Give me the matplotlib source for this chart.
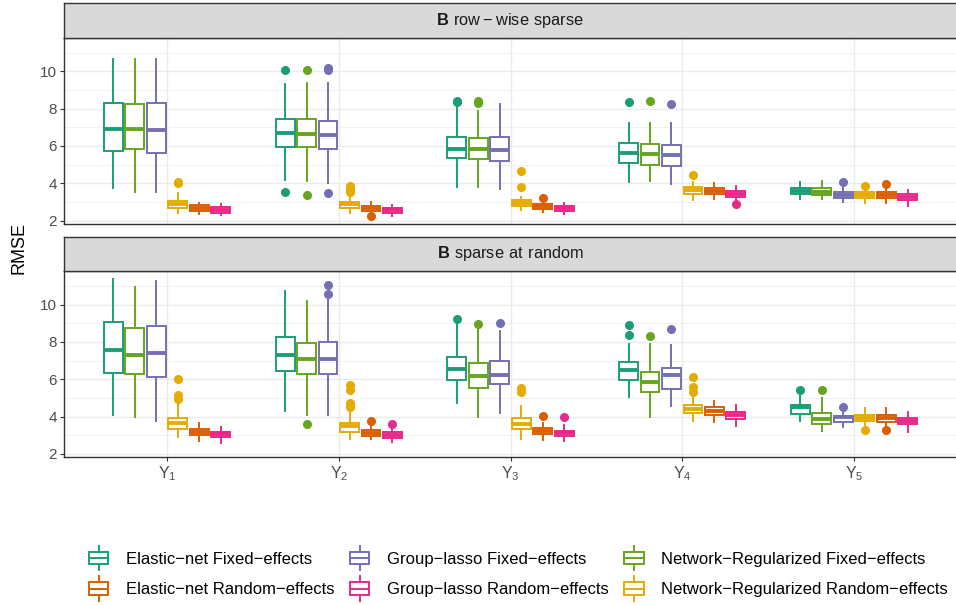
import matplotlib
matplotlib.use("Agg")
import matplotlib.pyplot as plt
from matplotlib.patches import Rectangle
from matplotlib.lines import Line2D
from matplotlib.legend_handler import HandlerBase

plt.rcParams['font.family'] = ['Liberation Sans', 'DejaVu Sans']
plt.rcParams['mathtext.fontset'] = 'custom'
plt.rcParams['mathtext.rm'] = 'Liberation Sans'
plt.rcParams['mathtext.bf'] = 'Liberation Sans:bold'

responses = [r'$\mathrm{Y}_{1}$', r'$\mathrm{Y}_{2}$', r'$\mathrm{Y}_{3}$',
             r'$\mathrm{Y}_{4}$', r'$\mathrm{Y}_{5}$']
panel_titles = [r'$\mathbf{B}\ \mathrm{row}-\mathrm{wise\ sparse}$',
                r'$\mathbf{B}\ \mathrm{sparse\ at\ random}$']

# box stats per response: [whisker low, q1, median, q3, whisker high]
# ---- B row-wise sparse
rw_en_fixed = [[3.74, 5.75, 6.91, 8.29, 10.64], [4.18, 5.96, 6.70, 7.45, 9.32],
               [3.82, 5.36, 5.86, 6.50, 8.11], [4.06, 5.11, 5.61, 6.18, 7.22],
               [3.16, 3.45, 3.61, 3.77, 4.06]]
rw_en_fixed_out = [[], [10.07, 3.56], [8.34, 8.40], [8.34], []]
rw_nr_fixed = [[3.56, 5.84, 6.91, 8.23, 10.64], [4.14, 5.95, 6.64, 7.45, 9.36],
               [3.82, 5.30, 5.82, 6.43, 7.87], [4.14, 4.97, 5.55, 6.12, 7.22],
               [3.16, 3.36, 3.54, 3.75, 4.14]]
rw_nr_fixed_out = [[], [10.07, 3.36], [8.30, 8.42], [8.41], []]
rw_gl_fixed = [[3.56, 5.64, 6.86, 8.32, 10.64], [4.00, 5.84, 6.57, 7.34, 9.36],
               [3.68, 5.21, 5.77, 6.48, 8.23], [3.97, 4.95, 5.50, 6.07, 7.22],
               [3.00, 3.22, 3.38, 3.54, 3.82]]
rw_gl_fixed_out = [[], [10.05, 10.20, 3.48], [], [8.25], [4.09]]
rw_nr_random = [[2.43, 2.67, 2.88, 3.06, 3.47], [2.43, 2.67, 2.90, 3.00, 3.29],
                [2.58, 2.81, 2.97, 3.11, 3.29], [3.11, 3.45, 3.64, 3.82, 4.07],
                [2.93, 3.22, 3.38, 3.54, 3.70]]
rw_nr_random_out = [[4.00, 4.05], [3.55, 3.65, 3.75, 3.85], [3.82, 4.66], [4.45], [3.88]]
rw_en_random = [[2.35, 2.54, 2.70, 2.84, 2.97], [2.43, 2.54, 2.68, 2.79, 2.99],
                [2.48, 2.65, 2.79, 2.90, 3.00], [3.15, 3.42, 3.61, 3.74, 4.00],
                [2.93, 3.22, 3.40, 3.54, 3.70]]
rw_en_random_out = [[], [2.27], [3.20], [], [3.95]]
rw_gl_random = [[2.31, 2.43, 2.58, 2.74, 2.88], [2.25, 2.43, 2.58, 2.70, 2.86],
                [2.36, 2.52, 2.67, 2.81, 2.93], [3.11, 3.25, 3.43, 3.58, 3.86],
                [2.81, 3.10, 3.26, 3.42, 3.65]]
rw_gl_random_out = [[], [], [], [2.90], []]

# ---- B sparse at random
sr_en_fixed = [[4.07, 6.35, 7.55, 9.08, 11.35], [4.32, 6.46, 7.32, 8.28, 10.75],
               [4.72, 5.96, 6.54, 7.18, 9.00], [5.04, 5.96, 6.50, 6.91, 7.89],
               [3.78, 4.14, 4.50, 4.63, 5.16]]
sr_en_fixed_out = [[], [], [9.23], [8.89, 8.36], [5.43]]
sr_nr_fixed = [[4.00, 6.28, 7.32, 8.75, 10.93], [4.09, 6.30, 7.09, 7.96, 10.21],
               [4.00, 5.55, 6.18, 6.86, 8.73], [3.97, 5.34, 5.86, 6.41, 7.89],
               [3.25, 3.59, 3.88, 4.21, 4.98]]
sr_nr_fixed_out = [[], [3.59], [8.94], [8.34], [5.43]]
sr_gl_fixed = [[3.78, 6.14, 7.39, 8.84, 11.28], [4.07, 6.28, 7.10, 8.01, 10.28],
               [4.18, 5.73, 6.23, 7.00, 8.59], [4.57, 5.46, 6.21, 6.62, 7.82],
               [3.46, 3.72, 3.97, 4.05, 4.27]]
sr_gl_fixed_out = [[], [11.03, 10.57], [9.00], [8.71], [4.54]]
sr_nr_random = [[2.93, 3.32, 3.64, 3.93, 4.77], [2.79, 3.20, 3.52, 3.68, 4.21],
                [2.80, 3.34, 3.62, 3.93, 4.57], [3.78, 4.21, 4.43, 4.63, 5.07],
                [3.55, 3.78, 3.93, 4.11, 4.45]]
sr_nr_random_out = [[6.00, 5.15, 4.95], [5.70, 5.40, 4.75, 4.60, 4.50],
                    [5.55, 5.30], [6.11, 5.57, 5.30], [3.29]]
sr_en_random = [[2.70, 3.00, 3.18, 3.34, 3.64], [2.79, 2.95, 3.13, 3.29, 3.56],
                [2.75, 3.07, 3.23, 3.41, 3.66], [3.73, 4.09, 4.30, 4.50, 4.86],
                [3.52, 3.73, 3.93, 4.09, 4.48]]
sr_en_random_out = [[], [3.78], [4.05], [], [3.27]]
sr_gl_random = [[2.61, 2.90, 3.06, 3.20, 3.46], [2.64, 2.86, 3.02, 3.16, 3.38],
                [2.71, 2.95, 3.11, 3.25, 3.54], [3.52, 3.88, 4.09, 4.23, 4.63],
                [3.20, 3.59, 3.75, 3.91, 4.27]]
sr_gl_random_out = [[], [3.59], [4.00], [], []]

# dodge order in the plot: teal, green, purple, yellow, orange, pink
methods = ['en_fixed', 'nr_fixed', 'gl_fixed', 'nr_random', 'en_random', 'gl_random']
colors = {'en_fixed': '#1B9E77', 'en_random': '#D95F02', 'gl_fixed': '#7570B3',
          'gl_random': '#E7298A', 'nr_fixed': '#66A61E', 'nr_random': '#E6AB02'}
labels = {'en_fixed': 'Elastic\u2212net Fixed\u2212effects',
          'en_random': 'Elastic\u2212net Random\u2212effects',
          'gl_fixed': 'Group\u2212lasso Fixed\u2212effects',
          'gl_random': 'Group\u2212lasso Random\u2212effects',
          'nr_fixed': 'Network\u2212Regularized Fixed\u2212effects',
          'nr_random': 'Network\u2212Regularized Random\u2212effects'}

panels = [
    {'en_fixed': (rw_en_fixed, rw_en_fixed_out), 'nr_fixed': (rw_nr_fixed, rw_nr_fixed_out),
     'gl_fixed': (rw_gl_fixed, rw_gl_fixed_out), 'nr_random': (rw_nr_random, rw_nr_random_out),
     'en_random': (rw_en_random, rw_en_random_out), 'gl_random': (rw_gl_random, rw_gl_random_out)},
    {'en_fixed': (sr_en_fixed, sr_en_fixed_out), 'nr_fixed': (sr_nr_fixed, sr_nr_fixed_out),
     'gl_fixed': (sr_gl_fixed, sr_gl_fixed_out), 'nr_random': (sr_nr_random, sr_nr_random_out),
     'en_random': (sr_en_random, sr_en_random_out), 'gl_random': (sr_gl_random, sr_gl_random_out)},
]

W, H = 956, 605
fig = plt.figure(figsize=(W / 100, H / 100), dpi=100)

dark = '#333333'
grid = '#EBEBEB'
step = 0.125
bw = 0.11

def px(x0, y0, x1, y1):
    # pixel box -> figure fraction rect
    return [x0 / W, 1 - y1 / H, (x1 - x0) / W, (y1 - y0) / H]

panel_px = [(64, 37.7, 957, 224), (64, 271, 957, 457.3)]
strip_px = [(64, 3, 957, 37.7), (64, 236.5, 957, 271)]

for k, data in enumerate(panels):
    ax = fig.add_axes(px(*panel_px[k]))
    for i, m in enumerate(methods):
        stats, outs = data[m]
        bxs = []
        for s, o in zip(stats, outs):
            bxs.append({'whislo': s[0], 'q1': s[1], 'med': s[2], 'q3': s[3],
                        'whishi': s[4], 'fliers': o})
        pos = [j + 1 + (i - 2.5) * step for j in range(len(stats))]
        c = colors[m]
        ax.bxp(bxs, positions=pos, widths=bw, showcaps=False, patch_artist=True,
               boxprops=dict(facecolor='white', edgecolor=c, linewidth=1.4),
               whiskerprops=dict(color=c, linewidth=1.4),
               medianprops=dict(color=c, linewidth=2.8, solid_capstyle='butt'),
               flierprops=dict(marker='o', markerfacecolor=c, markeredgecolor=c,
                               markersize=5.5, linestyle='none'),
               manage_ticks=False, zorder=3)
    ax.set_xlim(0.4, 5.6)
    ax.set_ylim(1.82, 11.8)
    ax.set_yticks([2, 4, 6, 8, 10])
    ax.set_yticks([3, 5, 7, 9, 11], minor=True)
    ax.set_xticks(range(1, 6))
    ax.grid(True, which='major', color=grid, linewidth=1.0, zorder=0)
    ax.grid(True, which='minor', axis='y', color=grid, linewidth=0.5, zorder=0)
    ax.set_axisbelow(True)
    for sp in ax.spines.values():
        sp.set_color(dark)
        sp.set_linewidth(1.0)
    ax.tick_params(which='major', color=dark, length=3, width=0.8,
                   labelsize=11, labelcolor='#4D4D4D', pad=2)
    ax.tick_params(which='minor', length=0)
    if k == 0:
        ax.tick_params(axis='x', bottom=False, labelbottom=False)
    else:
        ax.set_xticklabels(responses, fontsize=11.5)

    sax = fig.add_axes(px(*strip_px[k]))
    sax.set_facecolor('#D9D9D9')
    sax.set_xticks([])
    sax.set_yticks([])
    for sp in sax.spines.values():
        sp.set_color(dark)
        sp.set_linewidth(1.0)
    sax.text(0.5, 0.5, panel_titles[k], ha='center', va='center',
             fontsize=11.8, color='#1A1A1A', transform=sax.transAxes)

fig.text(19 / W, 1 - 247.5 / H, 'RMSE', rotation=90, ha='center', va='center',
         fontsize=13, color='black')


class BoxHandler(HandlerBase):
    def create_artists(self, legend, orig_handle, xdescent, ydescent,
                       width, height, fontsize, trans):
        c = orig_handle.get_color()
        cx = width / 2 - xdescent
        bwid = width * 0.9
        y0 = -ydescent + height * 0.08
        y1 = -ydescent + height * 0.92
        rect = Rectangle((cx - bwid / 2, y0), bwid, y1 - y0, facecolor='white',
                         edgecolor=c, linewidth=1.4, transform=trans)
        ym = (y0 + y1) / 2
        med = Line2D([cx - bwid / 2, cx + bwid / 2], [ym, ym], color=c,
                     linewidth=1.4, transform=trans)
        wt = Line2D([cx, cx], [y1, y1 + height * 0.4], color=c, linewidth=1.4,
                    transform=trans)
        wb = Line2D([cx, cx], [y0, y0 - height * 0.4], color=c, linewidth=1.4,
                    transform=trans)
        return [wt, wb, rect, med]


legend_order = ['en_fixed', 'en_random', 'gl_fixed', 'gl_random', 'nr_fixed', 'nr_random']
handles = [Line2D([], [], color=colors[m]) for m in legend_order]
fig.legend(handles, [labels[m] for m in legend_order], ncol=3,
           handler_map={Line2D: BoxHandler()},
           loc='center', bbox_to_anchor=(518 / W, 1 - 574 / H),
           frameon=False, fontsize=12, handlelength=1.3, handleheight=1.0,
           handletextpad=1.0, columnspacing=0.85, labelspacing=0.85,
           borderpad=0.2)

fig.savefig('out.png', dpi=100)
